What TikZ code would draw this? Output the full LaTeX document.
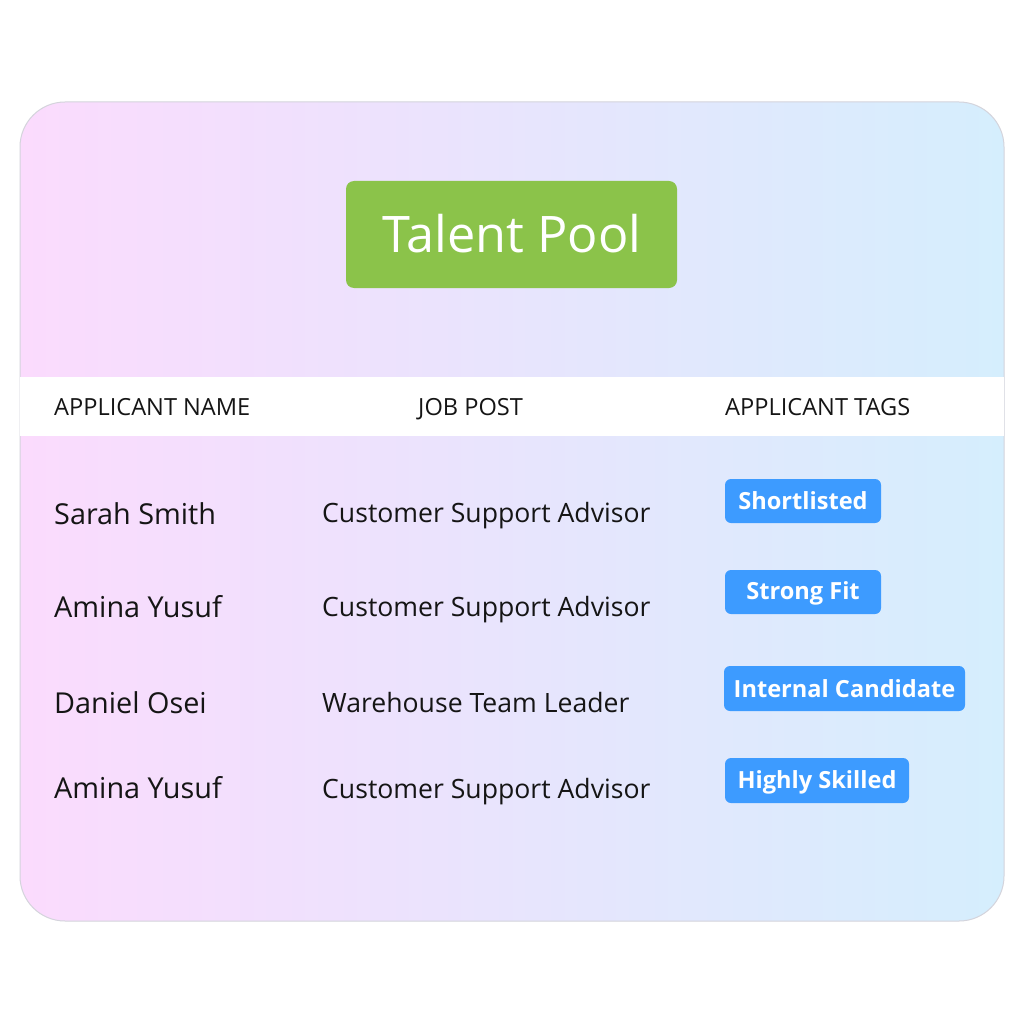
\documentclass[tikz,border=0pt]{standalone}
\usepackage{fontspec}
\setmainfont{Open Sans}
\definecolor{cardL}{HTML}{FBDBFD}
\definecolor{cardR}{HTML}{D5EEFD}
\definecolor{cardB}{HTML}{D4D4DC}
\definecolor{titleG}{HTML}{8BC34A}
\definecolor{tagB}{HTML}{3D9BFF}
\definecolor{ink}{HTML}{151515}
\tikzset{
  hdr/.style={anchor=base west, inner sep=0pt, text=ink, font=\fontsize{23.6}{28}\selectfont},
  nm/.style={anchor=base west, inner sep=0pt, text=ink, font=\fontsize{28.8}{34}\selectfont},
  jb/.style={anchor=base west, inner sep=0pt, text=ink, font=\fontsize{26.6}{31}\selectfont},
  tagbox/.style={fill=tagB, rounded corners=6pt, inner sep=0pt},
  tagtxt/.style={anchor=base, inner sep=0pt, text=white, font=\bfseries\fontsize{23.6}{28}\selectfont},
}
\begin{document}
\begin{tikzpicture}[x=1pt,y=-1pt]
\useasboundingbox (0,0) rectangle (1024,1024);
\fill[white] (0,0) rectangle (1024,1024);
% card
\path[rounded corners=45pt, left color=cardL, right color=cardR, draw=cardB, line width=1pt]
  (20,102) rectangle (1004,921);
% title
\fill[titleG, rounded corners=8pt] (346,181) rectangle (677,288);
\node[anchor=base, inner sep=0pt, text=white, font=\fontsize{50.4}{60}\selectfont] (title) at (512,252) {Talent Pool};
% header band
\fill[white] (20,377) rectangle (1004,436);
\node[hdr] (hname) at (54,415) {APPLICANT NAME};
\node[hdr] (hjob) at (418,415) {JOB POST};
\node[hdr] (htags) at (725,415) {APPLICANT TAGS};
% names
\node[nm] (n1) at (54,524) {Sarah Smith};
\node[nm] (n2) at (54,617) {Amina Yusuf};
\node[nm] (n3) at (54,713) {Daniel Osei};
\node[nm] (n4) at (54,798) {Amina Yusuf};
% jobs
\node[jb] (j1) at (322,522) {Customer Support Advisor};
\node[jb] (j2) at (322,616) {Customer Support Advisor};
\node[jb] (j3) at (322,712) {Warehouse Team Leader};
\node[jb] (j4) at (322,798) {Customer Support Advisor};
% tags
\fill[tagbox] (725,479) rectangle (881,523);
\node[tagtxt] (t1) at (803,509) {Shortlisted};
\fill[tagbox] (725,570) rectangle (881,614);
\node[tagtxt] (t2) at (803,599) {Strong Fit};
\fill[tagbox] (724,666) rectangle (965,711);
\node[tagtxt] (t3) at (844.5,697) {Internal Candidate};
\fill[tagbox] (725,758) rectangle (909,803);
\node[tagtxt] (t4) at (817,788) {Highly Skilled};
\end{tikzpicture}
\end{document}
